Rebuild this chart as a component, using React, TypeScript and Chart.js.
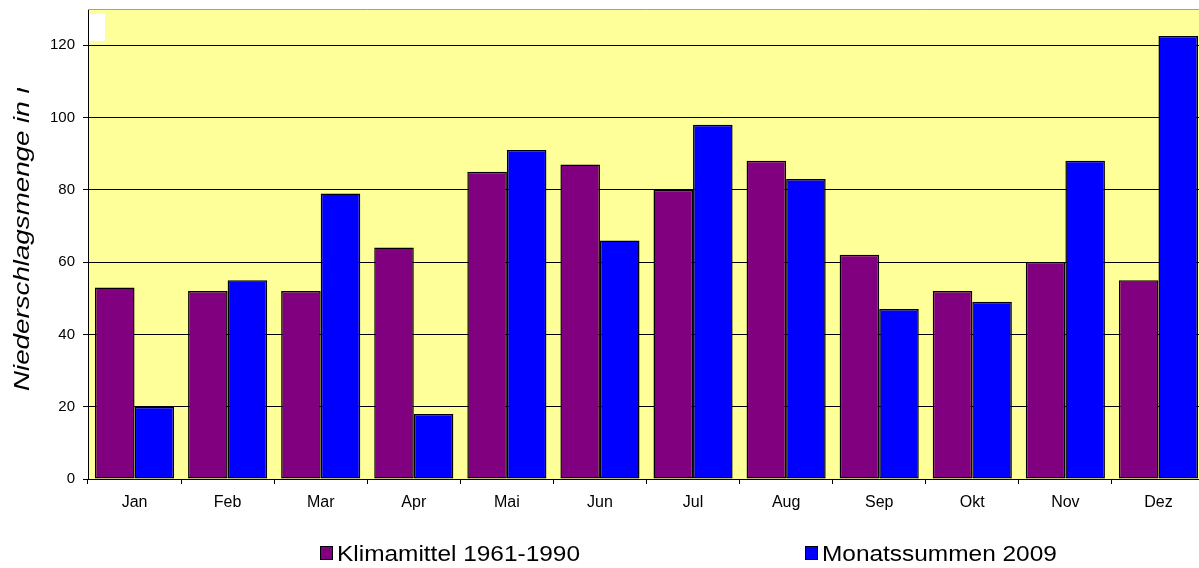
import React, { useEffect, useRef } from "react";
import { Chart, registerables } from "chart.js";

Chart.register(...registerables);

const categories = ["Jan", "Feb", "Mar", "Apr", "Mai", "Jun", "Jul", "Aug", "Sep", "Okt", "Nov", "Dez"];
const klimamittel = [53, 52, 52, 64, 85, 87, 80, 88, 62, 52, 60, 55];
const monatssummen = [20, 55, 79, 18, 91, 66, 98, 83, 47, 49, 88, 122.5];
const yTickValues = [0, 20, 40, 60, 80, 100, 120];
const yMax = 130;
const seriesNames = ["Klimamittel 1961-1990", "Monatssummen 2009"];
const yTitle = "Niederschlagsmenge in mm";

const FONT = '"Liberation Sans", Arial, sans-serif';
const PURPLE = "#800080";
const BLUE = "#0000FF";

const decorPlugin = {
  id: "decor",
  beforeDraw(chart: any) {
    const { ctx, chartArea } = chart;
    ctx.save();
    ctx.fillStyle = "#FFFF99";
    ctx.fillRect(chartArea.left, chartArea.top, chartArea.right - chartArea.left, chartArea.bottom - chartArea.top);
    ctx.fillStyle = "#FFFFFF";
    ctx.fillRect(chartArea.left + 1, 14, 16, 27);
    ctx.restore();
  },
  afterDraw(chart: any) {
    const { ctx, chartArea } = chart;
    ctx.save();
    ctx.strokeStyle = "#A0A0A0";
    ctx.lineWidth = 1;
    ctx.beginPath();
    ctx.moveTo(chartArea.left, Math.round(chartArea.top) + 0.5);
    ctx.lineTo(chartArea.right, Math.round(chartArea.top) + 0.5);
    ctx.stroke();
    ctx.restore();

    // y-axis title (clipped at top as in the reference)
    ctx.save();
    ctx.beginPath();
    ctx.rect(0, 88, 80, 480);
    ctx.clip();
    ctx.translate(29, 391);
    ctx.rotate(-Math.PI / 2);
    ctx.scale(1.26, 1);
    ctx.fillStyle = "#000";
    ctx.font = "italic 22px " + FONT;
    ctx.textBaseline = "alphabetic";
    ctx.textAlign = "left";
    ctx.fillText(yTitle, 0, 0);
    ctx.restore();

    // legend
    const items = [
      { x: 320, color: PURPLE, label: seriesNames[0] },
      { x: 805, color: BLUE, label: seriesNames[1] },
    ];
    items.forEach((it) => {
      ctx.save();
      ctx.fillStyle = it.color;
      ctx.fillRect(it.x + 0.5, 546.5, 12, 13);
      ctx.strokeStyle = "#000";
      ctx.lineWidth = 1;
      ctx.strokeRect(it.x + 0.5, 546.5, 12, 13);
      ctx.translate(it.x + 17, 561);
      ctx.scale(1.11, 1);
      ctx.fillStyle = "#000";
      ctx.font = "22px " + FONT;
      ctx.textBaseline = "alphabetic";
      ctx.fillText(it.label, 0, 0);
      ctx.restore();
    });
  },
};

export default function App() {
  const canvasRef = useRef<HTMLCanvasElement | null>(null);

  useEffect(() => {
    if (!canvasRef.current) return;
    const chart = new Chart(canvasRef.current, {
      type: "bar",
      data: {
        labels: categories,
        datasets: [
          {
            label: seriesNames[0],
            data: klimamittel,
            backgroundColor: PURPLE,
            borderColor: "#000",
            borderWidth: 1.5,
            borderSkipped: false,
            categoryPercentage: 0.85,
            barPercentage: 1,
          },
          {
            label: seriesNames[1],
            data: monatssummen,
            backgroundColor: BLUE,
            borderColor: "#000",
            borderWidth: 1.5,
            borderSkipped: false,
            categoryPercentage: 0.85,
            barPercentage: 1,
          },
        ],
      },
      options: {
        responsive: false,
        animation: false,
        layout: { padding: { left: 0, right: 5, top: 9, bottom: 0 } },
        plugins: {
          legend: { display: false },
          tooltip: { enabled: false },
        },
        scales: {
          x: {
            offset: true,
            grid: { offset: true, drawOnChartArea: false, drawTicks: true, tickLength: 5, color: "#000" },
            border: { color: "#000", width: 1 },
            ticks: { color: "#000", font: { family: FONT, size: 16 }, padding: 9, maxRotation: 0 },
            afterFit(scale: any) {
              scale.height = 89;
              scale.paddingLeft = 0;
              scale.paddingRight = 0;
            },
          },
          y: {
            min: 0,
            max: yMax,
            grid: { color: "#000", lineWidth: 1, drawTicks: true, tickLength: 5 },
            border: { color: "#000", width: 1 },
            ticks: { color: "#000", font: { family: FONT, size: 15 }, padding: 8 },
            afterBuildTicks(scale: any) {
              scale.ticks = yTickValues.map((v) => ({ value: v }));
            },
            afterFit(scale: any) {
              scale.width = 88;
              scale.paddingTop = 0;
              scale.paddingBottom = 0;
            },
          },
        },
      },
      plugins: [decorPlugin],
    } as any);
    return () => chart.destroy();
  }, []);

  return (
    <div style={{ position: "fixed", left: 0, top: 0, width: 1199, height: 568, overflow: "hidden", background: "#fff" }}>
      <canvas ref={canvasRef} width={1210} height={568} style={{ display: "block" }} />
    </div>
  );
}
